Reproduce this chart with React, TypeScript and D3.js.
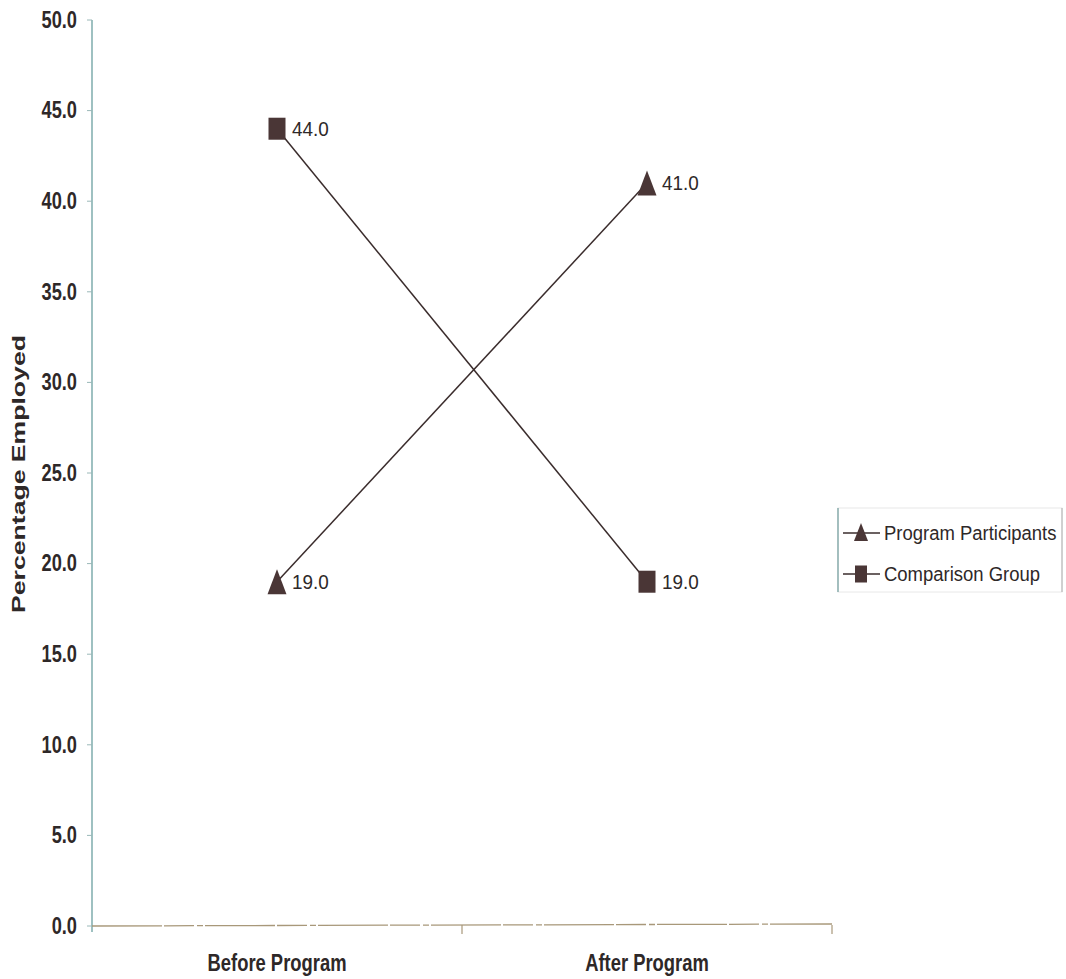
import React from "react";
import * as d3 from "d3";

const categories = ["Before Program", "After Program"];
const participants = [19.0, 41.0];
const comparison = [44.0, 19.0];
const yTickValues = [0, 5, 10, 15, 20, 25, 30, 35, 40, 45, 50];
const seriesNames = ["Program Participants", "Comparison Group"];

const W = 1066;
const H = 979;
const left = 92;
const right = 832;
const top = 20;
const bottom = 926;

const ink = "#3a2c2c";
const markFill = "#4a3636";
const fontStack = "'Liberation Sans', Arial, Helvetica, sans-serif";

function Triangle({ x, y, w, h }: { x: number; y: number; w: number; h: number }) {
  const p = d3.path();
  p.moveTo(x, y - h / 2);
  p.lineTo(x + w / 2, y + h / 2);
  p.lineTo(x - w / 2, y + h / 2);
  p.closePath();
  return <path d={p.toString()} fill={markFill} />;
}

function Square({ x, y, w, h }: { x: number; y: number; w: number; h: number }) {
  return <rect x={x - w / 2} y={y - h / 2} width={w} height={h} fill={markFill} />;
}

export default function App() {
  const y = d3.scaleLinear().domain([0, 50]).range([bottom, top]);
  const band = d3.scaleBand<string>().domain(categories).range([left, right]).padding(0);
  const cx = (c: string) => (band(c) as number) + band.bandwidth() / 2;

  const line = d3
    .line<number>()
    .x((_, i) => cx(categories[i]))
    .y((v) => y(v));

  const boundaries = categories.map((c) => (band(c) as number) + band.bandwidth());

  return (
    <svg width={W} height={H} style={{ position: "absolute", left: 0, top: 0, background: "#fff" }}>
      <rect width={W} height={H} fill="#fff" />

      {/* y axis */}
      <line x1={left} x2={left} y1={top} y2={bottom + 6} stroke="#6a9fa0" strokeWidth={1.3} />
      {yTickValues.map((t) => (
        <g key={t}>
          <line x1={left - 5} x2={left} y1={y(t)} y2={y(t)} stroke="#9ab8b8" strokeWidth={1} />
          <text
            transform={`translate(${77},${y(t)}) scale(0.76,1)`}
            textAnchor="end"
            dominantBaseline="central"
            fontFamily={fontStack}
            fontWeight="bold"
            fontSize={24}
            fill="#2e2828"
          >
            {t.toFixed(1)}
          </text>
        </g>
      ))}

      {/* y axis title */}
      <text
        transform={`translate(18,${474}) rotate(-90) scale(1.4,1)`}
        textAnchor="middle"
        dominantBaseline="central"
        fontFamily={fontStack}
        fontWeight="bold"
        fontSize={19}
        fill="#2e2828"
      >
        Percentage Employed
      </text>

      {/* x axis */}
      <line
        x1={left}
        x2={right}
        y1={bottom}
        y2={bottom - 2}
        stroke="#a8987a"
        strokeWidth={1.3}
        strokeDasharray="70 2 30 3 6 2"
      />
      {boundaries.map((b, i) => (
        <line key={i} x1={b} x2={b} y1={bottom - 1} y2={bottom + 8} stroke="#a8987a" strokeWidth={1.2} />
      ))}
      {categories.map((c) => (
        <text
          key={c}
          transform={`translate(${cx(c)},${963}) scale(0.8,1)`}
          textAnchor="middle"
          dominantBaseline="central"
          fontFamily={fontStack}
          fontWeight="bold"
          fontSize={23}
          fill="#2e2828"
        >
          {c}
        </text>
      ))}

      {/* series lines */}
      <path d={line(participants) || ""} fill="none" stroke={ink} strokeWidth={1.5} />
      <path d={line(comparison) || ""} fill="none" stroke={ink} strokeWidth={1.5} />

      {/* markers and value labels */}
      {participants.map((v, i) => (
        <g key={"p" + i}>
          <Triangle x={cx(categories[i])} y={y(v)} w={19} h={25} />
          <text
            transform={`translate(${cx(categories[i]) + 15},${y(v)}) scale(0.9,1)`}
            dominantBaseline="central"
            fontFamily={fontStack}
            fontSize={21}
            fill="#2e2828"
          >
            {v.toFixed(1)}
          </text>
        </g>
      ))}
      {comparison.map((v, i) => (
        <g key={"c" + i}>
          <Square x={cx(categories[i])} y={y(v)} w={17} h={22} />
          <text
            transform={`translate(${cx(categories[i]) + 15},${y(v)}) scale(0.9,1)`}
            dominantBaseline="central"
            fontFamily={fontStack}
            fontSize={21}
            fill="#2e2828"
          >
            {v.toFixed(1)}
          </text>
        </g>
      ))}

      {/* legend */}
      <g>
        <rect x={838} y={508} width={224} height={84} fill="none" stroke="#e8e8e8" strokeWidth={1} />
        <line x1={838} x2={838} y1={508} y2={592} stroke="#6f9c9c" strokeWidth={1.2} />
        <line x1={1062} x2={1062} y1={508} y2={592} stroke="#b8b8b8" strokeWidth={1.2} />
        {seriesNames.map((name, i) => {
          const ly = 533 + i * 41;
          return (
            <g key={name}>
              <line x1={843} x2={880} y1={ly} y2={ly} stroke={ink} strokeWidth={1.5} />
              {i === 0 ? (
                <Triangle x={861} y={ly - 1} w={14} h={18} />
              ) : (
                <Square x={861} y={ly} w={12} h={17} />
              )}
              <text
                transform={`translate(${884},${ly}) scale(0.88,1)`}
                dominantBaseline="central"
                fontFamily={fontStack}
                fontSize={21}
                fill="#2e2828"
              >
                {name}
              </text>
            </g>
          );
        })}
      </g>
    </svg>
  );
}
